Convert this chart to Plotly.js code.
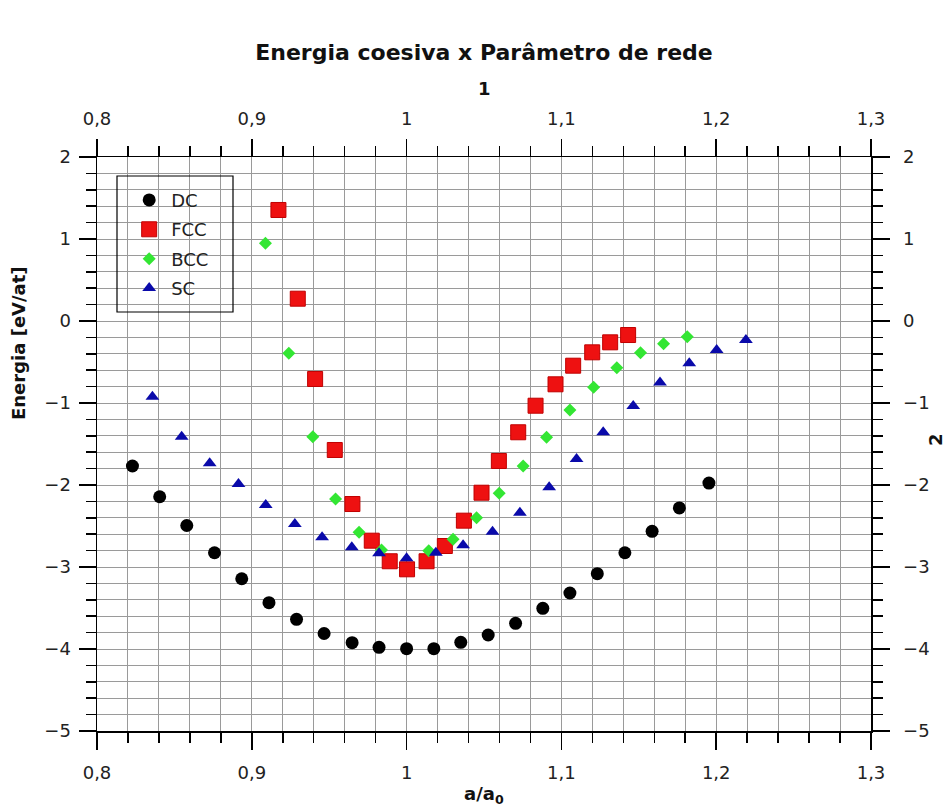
<!DOCTYPE html>
<html>
<head>
<meta charset="utf-8">
<script src="https://cdn.plot.ly/plotly-3.0.1.min.js"></script>
<style>html,body{margin:0;padding:0;background:#fff;}#chart{width:949px;height:810px;}</style>
</head>
<body>
<div id="chart"></div>
<script>
// DC
const dcX = [0.8229,0.8405,0.8580,0.8759,0.8935,0.9111,0.9289,0.9467,0.9648,0.9822,1.0000,1.0176,1.0350,1.0527,1.0704,1.0880,1.1055,1.1232,1.1410,1.1586,1.1762,1.1953];
const dcY = [-1.768,-2.143,-2.494,-2.826,-3.143,-3.435,-3.638,-3.811,-3.923,-3.979,-3.996,-3.996,-3.918,-3.829,-3.687,-3.504,-3.317,-3.082,-2.826,-2.565,-2.280,-1.976];
// FCC
const fccX = [0.9172,0.9297,0.9409,0.9536,0.9650,0.9775,0.9891,1.0003,1.0129,1.0247,1.0370,1.0484,1.0596,1.0721,1.0833,1.0962,1.1076,1.1199,1.1315,1.1431];
const fccY = [1.354,0.272,-0.707,-1.573,-2.232,-2.679,-2.930,-3.028,-2.930,-2.744,-2.435,-2.094,-1.707,-1.357,-1.033,-0.772,-0.545,-0.382,-0.260,-0.171];
// BCC
const bccX = [0.9088,0.9239,0.9394,0.9541,0.9693,0.9838,1.0143,1.0300,1.0452,1.0598,1.0753,1.0904,1.1055,1.1208,1.1358,1.1511,1.1660,1.1813];
const bccY = [0.948,-0.394,-1.411,-2.171,-2.577,-2.793,-2.801,-2.662,-2.399,-2.101,-1.768,-1.418,-1.085,-0.809,-0.570,-0.387,-0.276,-0.191];
// SC
const scX = [0.8358,0.8547,0.8728,0.8914,0.9090,0.9278,0.9454,0.9646,0.9822,1.0000,1.0189,1.0365,1.0555,1.0732,1.0921,1.1098,1.1270,1.1464,1.1637,1.1826,1.2003,1.2192];
const scY = [-0.923,-1.411,-1.735,-1.988,-2.244,-2.476,-2.638,-2.760,-2.833,-2.894,-2.826,-2.735,-2.570,-2.338,-2.028,-1.683,-1.357,-1.037,-0.750,-0.516,-0.354,-0.232];

const xRange = [0.8, 1.3];
const yRange = [-5, 2];

const FONT = 'DejaVu Sans, Verdana, sans-serif';
const traces = [
  {x: dcX, y: dcY, name: 'DC', legendgroup: 'a', mode: 'markers', type: 'scatter',
   marker: {symbol: 'circle', size: 13, color: '#000000'}},
  {x: fccX, y: fccY, name: 'FCC', legendgroup: 'b', mode: 'markers', type: 'scatter',
   marker: {symbol: 'square', size: 15, color: '#ee1111', line: {color: '#c00000', width: 1}}},
  {x: bccX, y: bccY, name: 'BCC', legendgroup: 'c', mode: 'markers', type: 'scatter',
   marker: {symbol: 'diamond', size: 10, color: '#33e633'}},
  {x: scX, y: scY, name: 'SC', legendgroup: 'd', mode: 'markers', type: 'scatter',
   marker: {symbol: 'triangle-up', size: 12, color: '#0a0aaa'}},
  {x: [], y: [], xaxis: 'x2', yaxis: 'y2', type: 'scatter', mode: 'markers', showlegend: false, hoverinfo: 'skip'}
];

const axCommon = {
  showline: true, linecolor: '#000', linewidth: 1.5,
  ticks: 'outside', ticklen: 17, tickwidth: 1.5, tickcolor: '#000',
  zeroline: false,
  tickfont: {family: FONT, size: 18, color: '#222'}
};
const titleFont = {family: FONT, size: 18, weight: 'bold', color: '#111'};

const layout = {
  width: 949, height: 810,
  paper_bgcolor: '#fff', plot_bgcolor: '#fff',
  separators: ',.',
  margin: {l: 97, r: 78, t: 157, b: 79},
  showlegend: true,
  title: {text: 'Energia coesiva x Parâmetro de rede', x: 0.5, xref: 'paper', y: 1 - 52/810, yanchor: 'middle',
          font: {family: FONT, size: 22, weight: 'bold', color: '#111'}},
  legend: {x: 0.039, y: 0.957, xanchor: 'left', yanchor: 'top', bgcolor: 'rgba(255,255,255,0)',
           borderwidth: 0, font: {family: FONT, size: 18, color: '#222'},
           itemsizing: 'trace', tracegroupgap: 3, itemwidth: 34},
  shapes: [
    {type: 'rect', xref: 'paper', yref: 'paper', x0: (117-97)/774, x1: (233-97)/774,
     y0: 1 - (312-157)/574, y1: 1 - (176-157)/574, line: {color: '#000', width: 1.2}}
  ],
  annotations: [
    {text: '1', xref: 'paper', yref: 'paper', x: 0.5, y: 1 + (157-88)/574, showarrow: false,
     xanchor: 'center', yanchor: 'middle', font: titleFont},
    {text: 'a/a<sub>0</sub>', xref: 'paper', yref: 'paper', x: 0.5, y: -(795-731)/574, showarrow: false,
     xanchor: 'center', yanchor: 'middle', font: titleFont},
    {text: 'Energia [eV/at]', xref: 'paper', yref: 'paper', x: (18-97)/774, y: 1 - (343-157)/574, showarrow: false,
     textangle: -90, xanchor: 'center', yanchor: 'middle', font: titleFont},
    {text: '2', xref: 'paper', yref: 'paper', x: 1 + (935-871)/774, y: 1 - (440-157)/574, showarrow: false,
     textangle: -90, xanchor: 'center', yanchor: 'middle', font: titleFont}
  ],
  xaxis: Object.assign({}, axCommon, {
    range: xRange, dtick: 0.1, tick0: 0.8, side: 'bottom', ticklabelstandoff: 8,
    showgrid: true, gridcolor: '#9a9a9a', gridwidth: 1,
    minor: {dtick: 0.02, ticks: 'outside', ticklen: 10, tickwidth: 1.5, tickcolor: '#000', showgrid: true, gridcolor: '#9a9a9a', gridwidth: 1}
  }),
  xaxis2: Object.assign({}, axCommon, {
    range: xRange, dtick: 0.1, tick0: 0.8, side: 'top', overlaying: 'x', anchor: 'y2', ticklabelstandoff: 6,
    showgrid: false,
    minor: {dtick: 0.02, ticks: 'outside', ticklen: 10, tickwidth: 1.5, tickcolor: '#000', showgrid: false}
  }),
  yaxis: Object.assign({}, axCommon, {
    range: yRange, dtick: 1, tick0: 0, ticklabelstandoff: 4,
    showgrid: true, gridcolor: '#9a9a9a', gridwidth: 1,
    minor: {dtick: 0.2, ticks: 'outside', ticklen: 10, tickwidth: 1.5, tickcolor: '#000', showgrid: true, gridcolor: '#9a9a9a', gridwidth: 1}
  }),
  yaxis2: Object.assign({}, axCommon, {
    range: yRange, dtick: 1, tick0: 0, side: 'right', overlaying: 'y', anchor: 'x2', ticklabelstandoff: 10,
    showgrid: false,
    minor: {dtick: 0.2, ticks: 'outside', ticklen: 10, tickwidth: 1.5, tickcolor: '#000', showgrid: false}
  })
};

Plotly.newPlot('chart', traces, layout, {staticPlot: true, displayModeBar: false});
</script>
</body>
</html>
